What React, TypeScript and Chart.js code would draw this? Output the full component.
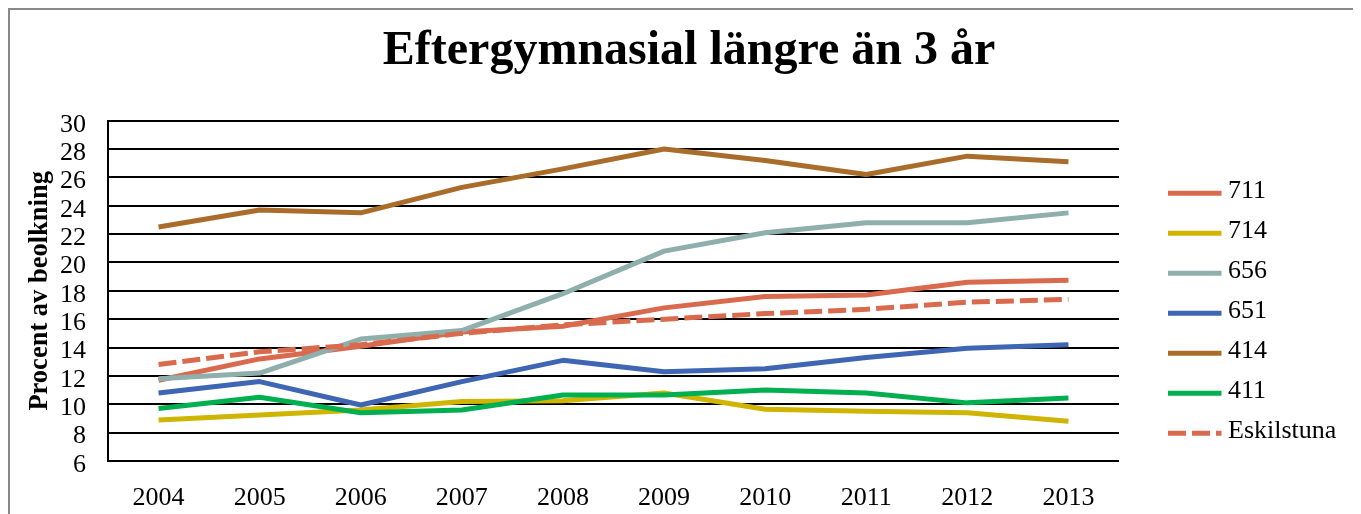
import React, { useEffect, useRef } from "react";
import { Chart, registerables } from "chart.js";

Chart.register(...registerables);

const TITLE = "Eftergymnasial längre än 3 år";
const Y_TITLE = "Procent av beolkning";
const YEARS = ["2004", "2005", "2006", "2007", "2008", "2009", "2010", "2011", "2012", "2013"];
const SERIES_NAMES = ["711", "714", "656", "651", "414", "411", "Eskilstuna"];

const S711 = [11.7, 13.2, 14.1, 15.1, 15.5, 16.8, 17.6, 17.7, 18.6, 18.75];
const S714 = [8.9, 9.25, 9.6, 10.2, 10.25, 10.8, 9.65, 9.5, 9.4, 8.8];
const S656 = [11.8, 12.2, 14.6, 15.2, 17.8, 20.8, 22.1, 22.8, 22.8, 23.5];
const S651 = [10.8, 11.6, 9.95, 11.6, 13.1, 12.3, 12.5, 13.3, 13.95, 14.2];
const S414 = [22.5, 23.7, 23.5, 25.3, 26.6, 28.0, 27.2, 26.2, 27.5, 27.1];
const S411 = [9.7, 10.5, 9.4, 9.6, 10.65, 10.65, 11.0, 10.8, 10.1, 10.45];
const ESK = [12.8, 13.7, 14.2, 15.0, 15.6, 16.0, 16.4, 16.7, 17.2, 17.4];

const SERIES = [S711, S714, S656, S651, S414, S411, ESK];
const COLORS = ["#DA6A4E", "#CFB500", "#8FAFAC", "#3E66B3", "#A96C2B", "#00AF4F", "#DA6A4E"];

const FONT = "'Liberation Serif', 'Times New Roman', serif";

const titleAndLegend = {
  id: "titleAndLegend",
  afterDraw(chart: any) {
    const ctx = chart.ctx;
    const area = chart.chartArea;
    ctx.save();
    // title
    ctx.fillStyle = "#000";
    ctx.font = `bold 48px ${FONT}`;
    ctx.textAlign = "center";
    ctx.textBaseline = "middle";
    ctx.fillText(TITLE, chart.width / 2 + 3.5, 42);
    // legend
    const x0 = area.right + 49;
    const x1 = x0 + 53.5;
    const tx = x1 + 6.5;
    const y0 = 183.3;
    const step = 40;
    chart.data.datasets.forEach((ds: any, i: number) => {
      const y = y0 + i * step;
      ctx.beginPath();
      ctx.strokeStyle = ds.borderColor;
      ctx.lineWidth = ds.borderWidth;
      ctx.lineCap = "butt";
      ctx.setLineDash(ds.borderDash || []);
      ctx.moveTo(x0, y);
      ctx.lineTo(x1, y);
      ctx.stroke();
      ctx.setLineDash([]);
      ctx.fillStyle = "#000";
      ctx.font = `26px ${FONT}`;
      ctx.textAlign = "left";
      ctx.textBaseline = "middle";
      ctx.fillText(ds.label, tx, y - 2);
    });
    ctx.restore();
  },
};

export default function App() {
  const ref = useRef<HTMLCanvasElement>(null);

  useEffect(() => {
    document.documentElement.style.overflow = "hidden";
    document.body.style.overflow = "hidden";
    const chart = new Chart(ref.current as HTMLCanvasElement, {
      type: "line",
      data: {
        labels: YEARS,
        datasets: SERIES.map((s, i) => ({
          label: SERIES_NAMES[i],
          data: s,
          borderColor: COLORS[i],
          backgroundColor: COLORS[i],
          borderWidth: 5,
          borderDash: i === 6 ? [18, 6] : [],
          borderCapStyle: "butt",
          borderJoinStyle: "round",
          pointRadius: 0,
          pointHoverRadius: 0,
          tension: 0,
          fill: false,
          order: SERIES.length - i,
        })),
      },
      options: {
        responsive: false,
        animation: false,
        events: [],
        layout: { padding: { left: 0, right: 242, top: 110.7, bottom: 0 } },
        plugins: {
          legend: { display: false },
          tooltip: { enabled: false },
          title: { display: false },
        },
        scales: {
          x: {
            offset: true,
            grid: { display: false, drawTicks: false },
            border: { display: false },
            ticks: {
              color: "#000",
              font: { family: FONT, size: 26 },
              padding: 22,
              maxRotation: 0,
              autoSkip: false,
            },
            afterFit: (s: any) => {
              s.height = 53;
              s.paddingLeft = 0;
              s.paddingRight = 0;
            },
          },
          y: {
            min: 6,
            max: 30,
            ticks: {
              stepSize: 2,
              autoSkip: false,
              color: "#000",
              font: { family: FONT, size: 26 },
              padding: 22,
              labelOffset: 4,
            },
            grid: { color: "#000", lineWidth: 2, drawTicks: false },
            border: { display: true, color: "#000", width: 2 },
            title: {
              display: true,
              text: Y_TITLE,
              color: "#000",
              font: { family: FONT, size: 26.5, weight: "bold" },
              padding: { top: 14, bottom: 0 },
            },
            afterFit: (s: any) => {
              s.width = 98;
              s.paddingTop = 0;
              s.paddingBottom = 0;
            },
          },
        },
      },
      plugins: [titleAndLegend],
    } as any);
    return () => chart.destroy();
  }, []);

  return (
    <div
      style={{
        borderLeft: "2px solid #898989",
        borderTop: "2px solid #898989",
        width: 1420,
        height: 540,
        boxSizing: "border-box",
        overflow: "hidden",
        background: "#fff",
      }}
    >
      <canvas ref={ref} width={1351} height={504} style={{ display: "block" }} />
    </div>
  );
}
